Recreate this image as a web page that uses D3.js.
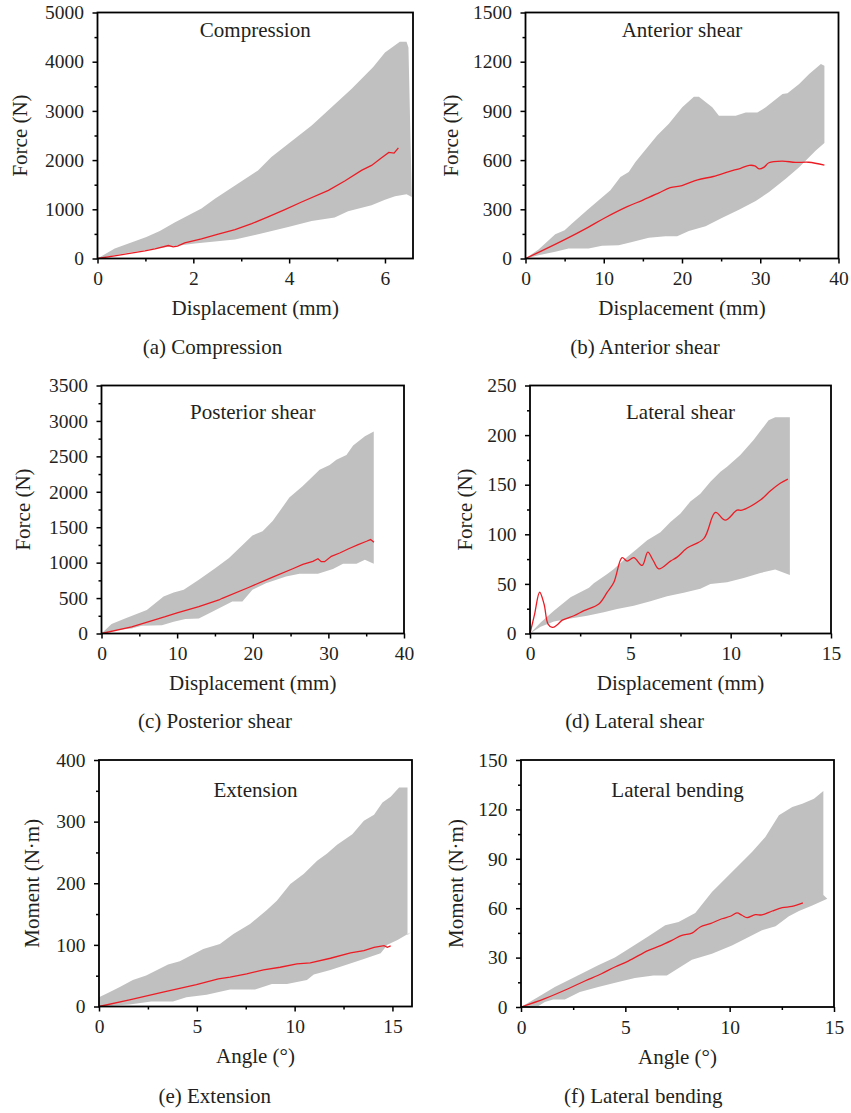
<!DOCTYPE html>
<html><head><meta charset="utf-8">
<script src="https://cdn.jsdelivr.net/npm/d3@7"></script>
<style>
body{margin:0;background:#fff}
text{font-family:"Liberation Serif","Times New Roman",serif;fill:#231f20}
</style>
</head><body><svg id="c" width="851" height="1113"></svg>
<script>
// ---------- data ----------
const aUpper = [[0,0],[0.36,203],[1.02,439],[1.30,561],[1.61,730],[2.17,1014],[2.45,1216],[3.35,1791],[3.63,2061],[4.47,2703],[5.30,3446],[5.75,3885],[6.00,4189],[6.31,4405],[6.45,4405],[6.49,4290]];
const aLower = [[0,0],[0.64,115],[1.34,216],[2.03,304],[2.87,385],[3.42,507],[3.98,642],[4.47,764],[4.95,831],[5.23,959],[5.72,1081],[6.00,1196],[6.21,1264],[6.45,1304],[6.56,1250]];
const aMean = [[0,0],[0.36,54],[0.64,101],[0.99,155],[1.20,196],[1.48,264],[1.58,236],[1.67,250],[1.82,318],[2.17,399],[2.52,493],[2.87,588],[3.22,709],[3.56,845],[3.91,993],[4.26,1149],[4.82,1385],[5.16,1574],[5.51,1791],[5.72,1892],[5.93,2047],[6.08,2155],[6.19,2142],[6.28,2250]];
const aXTicks = [0,2,4,6], aXMinor = [1,3,5];
const aYTicks = [0,1000,2000,3000,4000,5000], aYMinor = [500,1500,2500,3500,4500];

const bUpper = [[0,0],[1.67,55],[3.80,148],[5.00,172],[5.94,213],[7.86,294],[10.85,416],[12.13,497],[13.19,527],[14.05,588],[16.82,750],[18.32,821],[20.03,922],[21.52,987],[22.16,987],[23.87,922],[24.72,870],[26.86,870],[28.14,890],[29.63,890],[30.70,922],[32.84,1003],[33.48,1007],[34.97,1064],[36.25,1125],[37.75,1186],[38.2,1175]];
const bLower = [[0,0],[1.67,20],[3.80,41],[5.51,61],[8.07,61],[9.78,77],[11.91,81],[13.62,101],[15.76,126],[17.89,136],[19.38,136],[20.88,168],[23.01,197],[25.15,249],[27.28,298],[29.42,351],[31.13,405],[33.26,487],[34.97,557],[37.1,659],[38.2,705]];
const bMean = [[0,0],[2,45],[5,115],[8,190],[10,244],[13,316],[15,356],[17,399],[18.5,432],[20,445],[22,480],[24,500],[26,530],[27.5,550],[28.6,568],[29.3,565],[29.9,546],[30.5,557],[31.1,584],[32.8,594],[34.5,586],[36.2,587],[38.2,570]];
const bXTicks = [0,10,20,30,40], bXMinor = [5,15,25,35];
const bYTicks = [0,300,600,900,1200,1500], bYMinor = [150,450,750,1050,1350];

const cUpper = [[0,0],[1.33,133],[3.11,213],[5.99,331],[8.21,521],[9.54,578],[10.87,616],[12.87,758],[15.08,923],[16.86,1065],[19.96,1383],[21.30,1444],[22.63,1586],[24.84,1918],[26.62,2083],[28.84,2311],[30.17,2377],[31.06,2453],[32.39,2519],[33.27,2652],[34.83,2784],[36.0,2850]];
const cLower = [[0,0],[1.77,47],[3.99,71],[5.32,109],[7.99,118],[9.54,166],[11.09,204],[12.87,213],[14.64,308],[17.30,450],[18.63,450],[19.96,616],[21.74,710],[24.40,805],[26.18,843],[28.62,843],[30.61,909],[31.94,985],[33.72,985],[34.83,1042],[36.0,985]];
const cMean = [[0,0],[3.99,95],[8.43,237],[10,292],[12.87,379],[15.53,473],[15.97,497],[19.52,653],[22.63,795],[25.29,914],[26.62,975],[27.95,1018],[28.62,1056],[29.06,1013],[29.50,1013],[30.39,1089],[31.50,1136],[32.61,1193],[33.94,1255],[35.05,1302],[35.58,1326],[36.03,1288]];
const cXTicks = [0,10,20,30,40], cXMinor = [5,15,25,35];
const cYTicks = [0,500,1000,1500,2000,2500,3000,3500], cYMinor = [250,750,1250,1750,2250,2750,3250];

const dUpper = [[0,0],[0.53,11],[1.19,23],[2.02,36.5],[2.94,46],[3.18,50.7],[3.85,60],[4.18,65],[4.84,77],[5.34,85.5],[5.84,94],[6.50,102],[7.00,112.5],[7.50,121],[7.99,133],[8.49,141],[8.99,153],[9.49,163],[9.82,168],[10.48,180],[11.14,195],[11.89,215],[12.22,218],[12.95,218]];
const dLower = [[0,0],[0.53,6.8],[1.19,12.2],[2.02,15.2],[2.85,17.9],[3.68,21.3],[4.34,24.7],[5.17,28],[6.00,32.4],[6.83,37.5],[7.66,41],[8.49,45],[8.99,50],[9.82,51.7],[10.65,56],[11.48,61],[12.22,64.5],[12.95,59]];
const dMean = [[0,0],[0.23,19.6],[0.48,41.6],[0.70,29.7],[0.90,9.5],[1.11,6.1],[1.36,8.8],[1.61,13.5],[2.19,17.9],[2.69,23],[3.43,29.7],[3.85,41.6],[4.18,51.7],[4.59,76.4],[4.84,73],[5.17,76.4],[5.59,68.6],[5.87,82.1],[6.14,73.6],[6.42,65.2],[7.00,73],[7.33,77],[7.83,86.1],[8.66,95.6],[9.24,122],[9.73,114.2],[10.32,124.3],[10.56,124.3],[11.48,134.5],[11.97,143.6],[12.47,151.4],[12.85,155.7]];
const dXTicks = [0,5,10,15], dXMinor = [2.5,7.5,12.5];
const dYTicks = [0,50,100,150,200,250], dYMinor = [25,75,125,175,225];

const eUpper = [[0,15.1],[0.53,23.2],[1.04,31.3],[1.73,43.2],[2.41,50.2],[3.53,68],[4.13,73.4],[5.33,93.4],[6.18,101.5],[6.87,117.7],[7.72,133.9],[8.58,156.6],[9.09,171.7],[9.78,198.7],[10.46,214.9],[11.15,236.5],[11.66,248.4],[12.17,262.4],[12.95,279.7],[13.54,301.3],[14.06,311],[14.49,331],[14.91,340.2],[15.34,355.3],[15.77,355.3],[15.77,116]];
const eLower = [[0,0],[1.56,3.2],[2.67,8.1],[3.78,8.1],[4.47,15.1],[5.50,18.9],[6.70,27.5],[7.98,27.5],[8.84,36.7],[9.61,36.7],[10.63,43.2],[10.98,51.8],[11.83,59.4],[12.69,68],[13.54,77.2],[14.40,86.4],[14.74,100.4],[15.26,108],[15.94,120.4]];
const eMean = [[0,0],[1.56,10.8],[3.27,23.2],[4.98,35.6],[6.10,44.8],[6.70,47.5],[7.55,52.9],[8.41,59.4],[9.26,63.7],[10.12,69.1],[10.80,70.7],[11.83,78.3],[12.86,86.9],[13.54,90.7],[14.06,96.1],[14.57,98.8],[14.74,96.1],[14.91,98.3]];
const eXTicks = [0,5,10,15], eXMinor = [2.5,7.5,12.5];
const eYTicks = [0,100,200,300,400], eYMinor = [50,150,250,350];

const fUpper = [[0,0],[0.82,6.1],[1.62,12.1],[2.82,19.8],[3.70,25.3],[4.50,30],[5.30,36.4],[6.11,42.9],[6.91,49.6],[7.55,51.6],[8.35,57.1],[9.15,69.8],[10.11,82],[11.07,94.1],[11.71,103.2],[12.36,116.4],[13.00,121.5],[13.48,123.5],[14.04,126.5],[14.49,131.2],[14.49,68]];
const fLower = [[0,0],[0.82,0.5],[1.14,3],[1.54,4.5],[2.10,4.5],[2.82,9.1],[3.70,12.1],[4.66,15.2],[5.46,17.6],[6.35,19.2],[6.99,19.2],[7.39,22.3],[8.19,28.7],[9.15,32.4],[10.11,37.4],[10.75,41.5],[11.55,46.6],[12.20,49],[12.84,55.1],[13.32,58.3],[13.96,61.7],[14.68,65.8]];
const fMean = [[0,0],[1.14,5.1],[2.26,11.1],[3.06,15.8],[3.86,20.2],[4.50,24.3],[5.14,27.9],[6.11,34.4],[6.59,36.8],[7.23,40.5],[7.71,43.5],[8.19,44.9],[8.59,48.6],[9.07,50.6],[9.63,53.6],[10.03,55.1],[10.35,57.1],[10.59,55.7],[10.83,54.3],[11.23,56.1],[11.55,55.9],[12.04,58.3],[12.52,60.3],[12.99,61.1],[13.51,63.2]];
const fXTicks = [0,5,10,15], fXMinor = [2.5,7.5,12.5];
const fYTicks = [0,30,60,90,120,150], fYMinor = [15,45,75,105,135];

const titles = ["Compression","Anterior shear","Posterior shear","Lateral shear","Extension","Lateral bending"];
const captions = ["(a) Compression","(b) Anterior shear","(c) Posterior shear","(d) Lateral shear","(e) Extension","(f) Lateral bending"];
const xLabels = ["Displacement (mm)","Displacement (mm)","Displacement (mm)","Displacement (mm)","Angle (°)","Angle (°)"];
const yLabels = ["Force (N)","Force (N)","Force (N)","Force (N)","Moment (N·m)","Moment (N·m)"];

// ---------- layout ----------
const panels = [
 {up:aUpper, lo:aLower, mean:aMean, xd:[0,6.585], yd:[0,5000], xt:aXTicks, xm:aXMinor, yt:aYTicks, ym:aYMinor, L:97.5, R:413, T:12.5, B:258.5, ylx:27, capx:212.5, capy:354, ty:37, smooth:false},
 {up:bUpper, lo:bLower, mean:bMean, xd:[0,40], yd:[0,1500], xt:bXTicks, xm:bXMinor, yt:bYTicks, ym:bYMinor, L:525.5, R:838.5, T:12.5, B:258.5, ylx:458, capx:645, capy:354, ty:37, smooth:true},
 {up:cUpper, lo:cLower, mean:cMean, xd:[0,40], yd:[0,3500], xt:cXTicks, xm:cXMinor, yt:cYTicks, ym:cYMinor, L:101.5, R:404, T:385.5, B:633.5, ylx:30, capx:215, capy:727.5, ty:419, smooth:false},
 {up:dUpper, lo:dLower, mean:dMean, xd:[0,15], yd:[0,250], xt:dXTicks, xm:dXMinor, yt:dYTicks, ym:dYMinor, L:530, R:831, T:385.5, B:633.5, ylx:472, capx:634.5, capy:727.5, ty:419, smooth:true},
 {up:eUpper, lo:eLower, mean:eMean, xd:[0,16], yd:[0,400], xt:eXTicks, xm:eXMinor, yt:eYTicks, ym:eYMinor, L:99, R:412, T:760, B:1006.5, ylx:38.5, capx:214.7, capy:1102.5, ty:797, smooth:false},
 {up:fUpper, lo:fLower, mean:fMean, xd:[0,15], yd:[0,150], xt:fXTicks, xm:fXMinor, yt:fYTicks, ym:fYMinor, L:521, R:834, T:760, B:1007, ylx:463, capx:643.3, capy:1102.5, ty:797, smooth:true}
];

const svg = d3.select("#c");
svg.append("rect").attr("width",851).attr("height",1113).attr("fill","#fff");

panels.forEach((p,i)=>{
  const x = d3.scaleLinear().domain(p.xd).range([p.L,p.R]);
  const y = d3.scaleLinear().domain(p.yd).range([p.B,p.T]);
  const g = svg.append("g");
  const poly = p.up.concat(p.lo.slice().reverse());
  g.append("path").attr("d", d3.line().x(d=>x(d[0])).y(d=>y(d[1]))(poly)+"Z")
    .attr("fill","#c0c0c0").attr("stroke","none");
  g.append("path").attr("d", d3.line().x(d=>x(d[0])).y(d=>y(d[1]))
      .curve(p.smooth? d3.curveCatmullRom.alpha(0.5) : d3.curveLinear)(p.mean))
    .attr("fill","none").attr("stroke","#ec1c24").attr("stroke-width",1.3);

  // axes
  const fmt = d3.format("");
  const xa = g.append("g").attr("transform",`translate(0,${p.B})`)
    .call(d3.axisBottom(x).tickValues(p.xt).tickSize(5).tickPadding(8).tickFormat(fmt));
  const xmi = g.append("g").attr("transform",`translate(0,${p.B})`)
    .call(d3.axisBottom(x).tickValues(p.xm).tickSize(3).tickFormat(""));
  const ya = g.append("g").attr("transform",`translate(${p.L},0)`)
    .call(d3.axisLeft(y).tickValues(p.yt).tickSize(5).tickPadding(8.5).tickFormat(fmt));
  const ymi = g.append("g").attr("transform",`translate(${p.L},0)`)
    .call(d3.axisLeft(y).tickValues(p.ym).tickSize(3).tickFormat(""));
  [xa,xmi,ya,ymi].forEach(a=>{
    a.select(".domain").remove();
    a.selectAll("line").attr("stroke","#000").attr("stroke-width",1.5);
    a.selectAll("text").attr("font-size",19.5).attr("font-family",null).attr("fill","#231f20");
  });

  // frame
  g.append("rect").attr("x",p.L).attr("y",p.T).attr("width",p.R-p.L).attr("height",p.B-p.T)
    .attr("fill","none").attr("stroke","#000").attr("stroke-width",1.8);

  const cx = (p.L+p.R)/2, cy = (p.T+p.B)/2;
  g.append("text").attr("x",cx).attr("y",p.ty).attr("text-anchor","middle").attr("font-size",21).text(titles[i]);
  g.append("text").attr("x",cx).attr("y",p.B+56.5).attr("text-anchor","middle").attr("font-size",21).text(xLabels[i]);
  g.append("text").attr("transform",`translate(${p.ylx},${cy}) rotate(-90)`).attr("text-anchor","middle").attr("font-size",21).text(yLabels[i]);
  g.append("text").attr("x",p.capx).attr("y",p.capy).attr("text-anchor","middle").attr("font-size",21).text(captions[i]);
});
</script>
</body></html>
